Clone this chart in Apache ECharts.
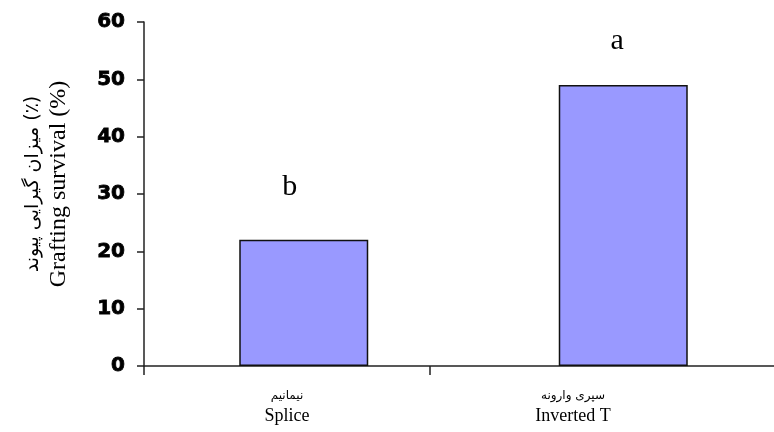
<!DOCTYPE html>
<html><head><meta charset="utf-8">
<script src="https://cdn.jsdelivr.net/npm/echarts@6/dist/echarts.min.js"></script>
<style>html,body{margin:0;padding:0;background:#fff}#c{width:774px;height:432px}</style>
</head><body><div id="c"></div>
<script>
const categoriesEn = ['Splice', 'Inverted T'];
const categoriesFa = ['نیمانیم', 'سپری وارونه'];
const survival = [22, 49];
const letters = ['b', 'a'];
const yTicks = [0, 10, 20, 30, 40, 50, 60];

const chart = echarts.init(document.getElementById('c'));
const serif = '"Liberation Serif","Times New Roman","DejaVu Serif",serif';
const faFont = '"DejaVu Sans","Noto Sans",sans-serif';
const labelOffsets = [[-14, 0], [-6, 0]];
const labelDist = [38, 29];

chart.setOption({
  animation: false,
  grid: [
    { left: 144, right: 58, top: 22, bottom: 66, outerBoundsMode: 'none' },
    { left: 144, right: -9, top: 22, bottom: 66, outerBoundsMode: 'none' },
    { left: 144, right: 344, top: 22, bottom: 66, outerBoundsMode: 'none' }
  ],
  xAxis: [
    {
      type: 'category', gridIndex: 0,
      data: categoriesEn.map((e, i) => categoriesFa[i] + '\n' + e),
      axisLine: { show: false },
      axisTick: { show: false },
      axisLabel: {
        margin: 20,
        formatter: (v) => { const p = v.split('\n'); return '{fa|' + p[0] + '}\n{en|' + p[1] + '}'; },
        rich: {
          fa: { fontFamily: faFont, fontSize: 12, color: '#000', lineHeight: 19 },
          en: { fontFamily: serif, fontSize: 18, color: '#000', lineHeight: 22 }
        }
      }
    },
    {
      type: 'category', gridIndex: 1, data: categoriesEn,
      axisLine: { show: true, lineStyle: { color: '#222', width: 1.5 } },
      axisTick: { show: false }, axisLabel: { show: false }
    },
    {
      type: 'value', gridIndex: 2, min: 0, max: 1, interval: 1,
      axisLine: { show: false }, splitLine: { show: false }, axisLabel: { show: false },
      axisTick: { show: true, length: 9, lineStyle: { color: '#222', width: 1.5 } }
    }
  ],
  yAxis: [
    {
      type: 'value', gridIndex: 0, min: 0, max: 60, interval: 10,
      splitLine: { show: false },
      axisLine: { show: true, lineStyle: { color: '#222', width: 1.5 } },
      axisTick: { show: true, length: 7, lineStyle: { color: '#222', width: 1.5 } },
      axisLabel: {
        margin: 19, color: '#000', fontFamily: '"DejaVu Sans",sans-serif', fontWeight: 'bold', fontSize: 20,
        textBorderColor: '#000', textBorderWidth: 0.8,
        formatter: (v) => yTicks.includes(v) ? String(v) : ''
      },
      name: '{fa|میزان گیرایی پیوند (٪)}\n{en|Grafting survival (%)}',
      nameLocation: 'middle', nameRotate: 90, nameGap: 72,
      nameTextStyle: {
        padding: [0, 0, 0, 20],
        rich: {
          fa: { fontFamily: faFont, fontSize: 19, color: '#000', lineHeight: 26 },
          en: { fontFamily: serif, fontSize: 24, color: '#000', lineHeight: 26 }
        }
      }
    },
    { type: 'value', gridIndex: 1, min: 0, max: 60, interval: 10, show: false },
    { type: 'value', gridIndex: 2, min: 0, max: 60, interval: 10, show: false }
  ],
  series: [{
    type: 'bar', xAxisIndex: 1, yAxisIndex: 1, barWidth: 129,
    itemStyle: { color: '#9999ff', borderColor: '#111', borderWidth: 1.5 },
    data: survival.map((v, i) => ({
      value: v,
      label: {
        show: true, position: 'top', distance: labelDist[i], offset: labelOffsets[i],
        formatter: letters[i], fontFamily: serif, fontSize: 30, color: '#000'
      }
    }))
  }]
});
</script></body></html>
